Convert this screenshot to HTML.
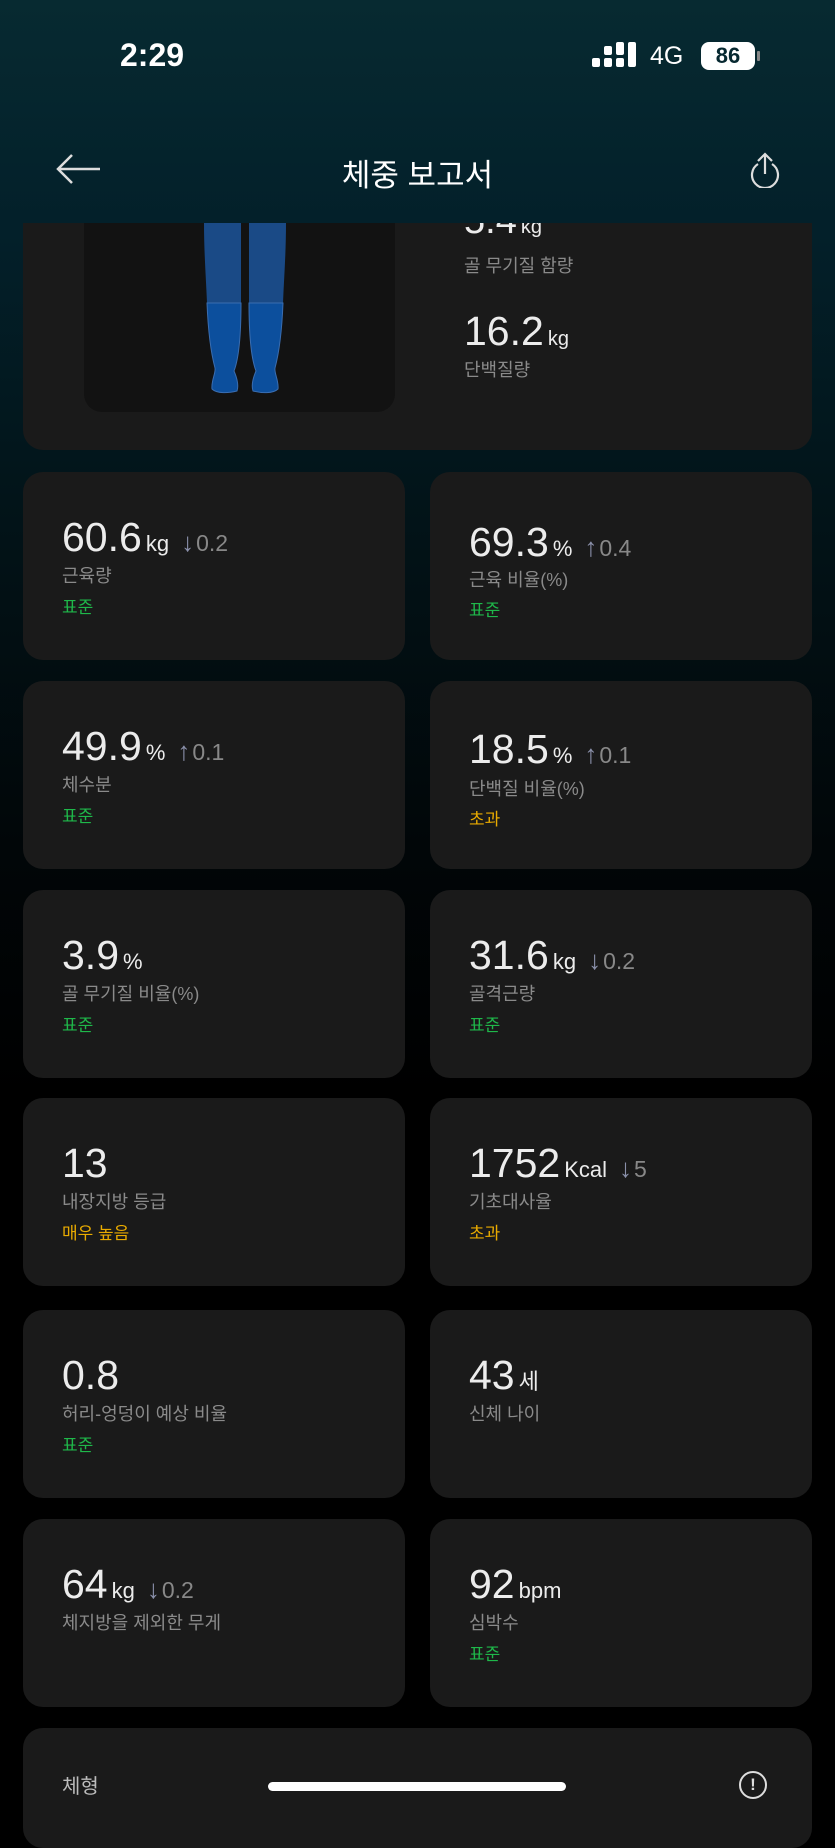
<!DOCTYPE html>
<html style="background:#000"><head><meta charset="utf-8">
<style>
*{margin:0;padding:0;box-sizing:border-box}
body{width:835px;height:1810px;overflow:hidden;position:relative;font-family:"Liberation Sans","Noto Sans CJK KR",sans-serif;background:linear-gradient(180deg,#062830 0px,#03202a 230px,#021419 500px,#010608 850px,#000 1100px,#000 1810px);color:#eee}
.hdr{position:absolute;left:0;top:0;width:835px;height:223px;background:linear-gradient(180deg,#072a31,#03202a);z-index:5}
.card{position:absolute;background:#1a1a1a;border-radius:20px;width:382px;height:188px}
.v{position:absolute;left:39px;top:45px;white-space:nowrap;font-size:41px;color:#ececec;line-height:40px}
.v .u{font-size:22px;margin-left:4px}
.v .d{font-size:23px;color:#888;margin-left:12px}
.v .d b{color:#8a90aa;font-weight:bold;font-size:26px;margin-right:2px}
.l{position:absolute;left:39px;top:90px;font-size:18px;color:#8a8a8a;white-space:nowrap}
.s{position:absolute;left:39px;top:121px;font-size:17px;color:#1fb84a;white-space:nowrap}
.s.o{color:#e9ab00}
</style></head><body>
<div class="hdr">
 <div style="position:absolute;left:120px;top:37px;font-size:32px;font-weight:bold;color:#fff;">2:29</div>
 <div style="position:absolute;left:592px;top:42px;width:64px;height:26px">
  <div style="position:absolute;left:0;top:16px;width:8px;height:9px;background:#fff;border-radius:2px"></div>
  <div style="position:absolute;left:12px;top:16px;width:8px;height:9px;background:#fff;border-radius:2px"></div>
  <div style="position:absolute;left:12px;top:4px;width:8px;height:9px;background:#fff;border-radius:2px"></div>
  <div style="position:absolute;left:24px;top:16px;width:8px;height:9px;background:#fff;border-radius:2px"></div>
  <div style="position:absolute;left:24px;top:0;width:8px;height:13px;background:#fff;border-radius:2px"></div>
  <div style="position:absolute;left:36px;top:0;width:8px;height:25px;background:#fff;border-radius:2px"></div>
 </div>
 <div style="position:absolute;left:650px;top:42px;font-size:25px;color:#fff">4G</div>
 <div style="position:absolute;left:701px;top:42px;width:54px;height:28px;background:#fff;border-radius:8px;color:#062830;font-size:22px;font-weight:bold;text-align:center;line-height:28px">86</div>
 <div style="position:absolute;left:757px;top:51px;width:3px;height:10px;background:#888;border-radius:1px"></div>
 <svg style="position:absolute;left:54px;top:152px" width="48" height="34"><path d="M46 17H4M18 3L4 17L18 31" stroke="#ddd" stroke-width="2.5" fill="none"/></svg>
 <div style="position:absolute;left:0;width:835px;top:150px;text-align:center;font-size:31px;color:#fff">체중 보고서</div>
 <svg style="position:absolute;left:747px;top:150px" width="36" height="38"><path d="M11 14A13 13 0 1 0 25 14" stroke="#ddd" stroke-width="2.2" fill="none"/><path d="M18 4V24M11 11L18 4L25 11" stroke="#ddd" stroke-width="2.2" fill="none"/></svg>
</div>

<div style="position:absolute;left:23px;top:120px;width:789px;height:330px;background:#1a1a1a;border-radius:20px">
 <div style="position:absolute;left:61px;top:0;width:311px;height:292px;background:#121212;border-radius:0 0 18px 18px"></div>
 <svg style="position:absolute;left:178px;top:103px" width="90" height="180">
  <path d="M3 0L40 0L40 80L6 80C5 55 3 30 3 0Z" fill="#1a4a86"/>
  <path d="M48 0L85 0C85 30 83 55 82 80L48 80Z" fill="#1a4a86"/>
  <path d="M6 80L40 80C40 110 38 135 33 148C36 155 38 162 36 168C28 170 16 171 11 166C10 158 15 150 14 145C10 130 7 105 6 80Z" fill="#0c4f9d" stroke="#3a6db0" stroke-width="1"/>
  <path d="M48 80L82 80C81 105 78 130 74 145C73 150 78 158 77 166C72 171 60 170 52 168C50 162 52 155 55 148C50 135 48 110 48 80Z" fill="#0c4f9d" stroke="#3a6db0" stroke-width="1"/>
 </svg>
 <div style="position:absolute;left:441px;top:82px;font-size:38px;color:#ececec;line-height:38px">5.4<span style="font-size:20px;margin-left:4px">kg</span></div>
 <div style="position:absolute;left:441px;top:132px;font-size:18px;color:#8a8a8a">골 무기질 함량</div>
 <div style="position:absolute;left:441px;top:191px;font-size:41px;color:#ececec;line-height:40px">16.2<span style="font-size:20px;margin-left:4px">kg</span></div>
 <div style="position:absolute;left:441px;top:236px;font-size:18px;color:#8a8a8a">단백질량</div>
</div>

<div class="card" style="left:23px;top:472px"><div class="v">60.6<span class="u">kg</span><span class="d"><b>↓</b>0.2</span></div><div class="l">근육량</div><div class="s">표준</div></div>
<div class="card" style="left:430px;top:472px"><div class="v" style="top:50px">69.3<span class="u">%</span><span class="d"><b>↑</b>0.4</span></div><div class="l" style="top:94px">근육 비율(%)</div><div class="s" style="top:124px">표준</div></div>

<div class="card" style="left:23px;top:681px"><div class="v">49.9<span class="u">%</span><span class="d"><b>↑</b>0.1</span></div><div class="l">체수분</div><div class="s">표준</div></div>
<div class="card" style="left:430px;top:681px"><div class="v" style="top:48px">18.5<span class="u">%</span><span class="d"><b>↑</b>0.1</span></div><div class="l" style="top:94px">단백질 비율(%)</div><div class="s o" style="top:124px">초과</div></div>

<div class="card" style="left:23px;top:890px"><div class="v">3.9<span class="u">%</span></div><div class="l">골 무기질 비율(%)</div><div class="s">표준</div></div>
<div class="card" style="left:430px;top:890px"><div class="v">31.6<span class="u">kg</span><span class="d"><b>↓</b>0.2</span></div><div class="l">골격근량</div><div class="s">표준</div></div>

<div class="card" style="left:23px;top:1098px"><div class="v">13</div><div class="l">내장지방 등급</div><div class="s o">매우 높음</div></div>
<div class="card" style="left:430px;top:1098px"><div class="v">1752<span class="u">Kcal</span><span class="d"><b>↓</b>5</span></div><div class="l">기초대사율</div><div class="s o">초과</div></div>

<div class="card" style="left:23px;top:1310px"><div class="v">0.8</div><div class="l">허리-엉덩이 예상 비율</div><div class="s">표준</div></div>
<div class="card" style="left:430px;top:1310px"><div class="v">43<span class="u">세</span></div><div class="l">신체 나이</div></div>

<div class="card" style="left:23px;top:1519px"><div class="v">64<span class="u">kg</span><span class="d"><b>↓</b>0.2</span></div><div class="l">체지방을 제외한 무게</div></div>
<div class="card" style="left:430px;top:1519px"><div class="v">92<span class="u">bpm</span></div><div class="l">심박수</div><div class="s">표준</div></div>

<div style="position:absolute;left:23px;top:1728px;width:789px;height:120px;background:#1a1a1a;border-radius:20px">
 <div style="position:absolute;left:39px;top:42px;font-size:20px;color:#bbb">체형</div>
 <div style="position:absolute;left:716px;top:43px;width:28px;height:28px;border:2.5px solid #ddd;border-radius:50%;color:#ddd;font-size:17px;font-weight:bold;text-align:center;line-height:23px">!</div>
</div>
<div style="position:absolute;left:268px;top:1782px;width:298px;height:9px;background:#fff;border-radius:5px"></div>
</body></html>
